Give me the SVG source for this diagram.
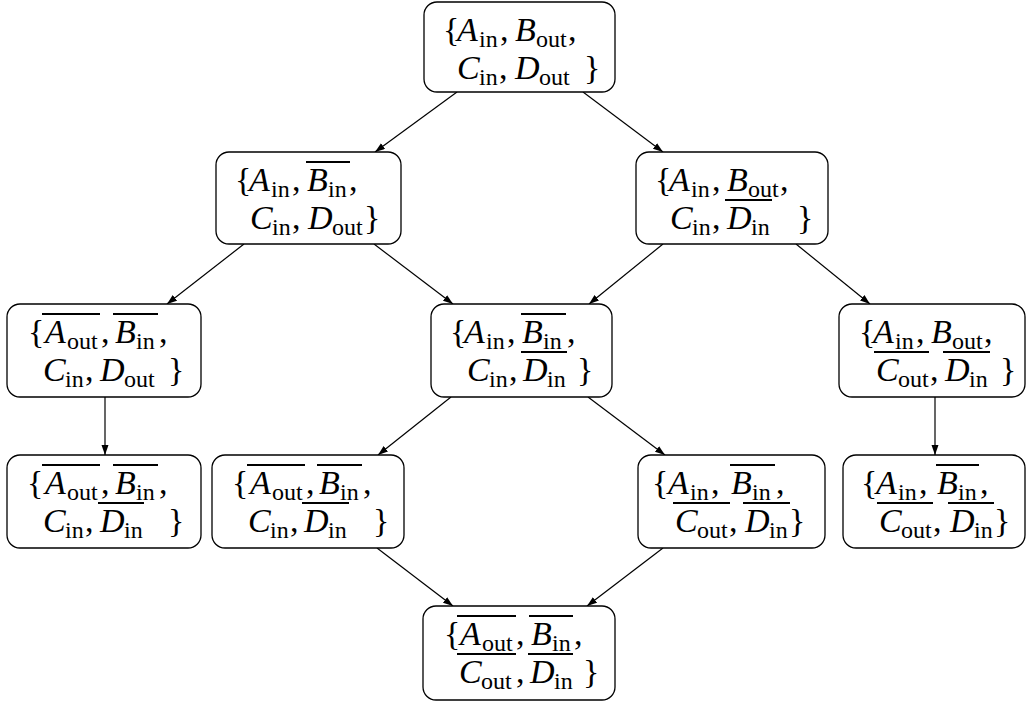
<svg xmlns="http://www.w3.org/2000/svg" width="1026" height="702" viewBox="0 0 1026 702">
<style>
.box{fill:#fff;stroke:#000;stroke-width:1.3}
.t{font-family:"Liberation Serif","Times New Roman",serif;font-size:34px;fill:#000}
.i{font-style:italic}
.s{font-size:24px;font-style:normal}
.ov{stroke:#000;stroke-width:1.8}
.e{stroke:#000;stroke-width:1.2;fill:none;marker-end:url(#ah)}
</style>
<defs>
<marker id="ah" markerUnits="userSpaceOnUse" markerWidth="10" markerHeight="8" refX="10" refY="3.5" orient="auto">
<path d="M0,0 L10,3.5 L0,7 z" fill="#000"/>
</marker>
</defs>
<rect width="1026" height="702" fill="#fff"/>
<g id="edges">
<line class="e" x1="457" y1="92" x2="375" y2="152"/>
<line class="e" x1="583" y1="92" x2="663" y2="152"/>
<line class="e" x1="244" y1="244" x2="167" y2="304"/>
<line class="e" x1="374" y1="244" x2="453" y2="304"/>
<line class="e" x1="663" y1="244" x2="589" y2="304"/>
<line class="e" x1="796" y1="244" x2="870" y2="304"/>
<line class="e" x1="105" y1="397" x2="105" y2="455"/>
<line class="e" x1="451" y1="397" x2="378" y2="455"/>
<line class="e" x1="588" y1="397" x2="665" y2="455"/>
<line class="e" x1="935" y1="397" x2="935" y2="455"/>
<line class="e" x1="377" y1="548" x2="453" y2="606"/>
<line class="e" x1="663" y1="548" x2="587" y2="606"/>
</g>
<g id="n1">
<rect class="box" x="424" y="2" width="191" height="90" rx="13"/>
<text class="t" y="41"><tspan x="443">{</tspan><tspan class="i" x="457">A</tspan><tspan class="s" x="479" y="47">in</tspan><tspan x="500" y="41">,</tspan><tspan class="i" x="515">B</tspan><tspan class="s" x="536" y="47">out</tspan><tspan x="568" y="41">,</tspan></text>
<text class="t" y="79"><tspan class="i" x="457">C</tspan><tspan class="s" x="479" y="85">in</tspan><tspan x="499" y="79">,</tspan><tspan class="i" x="515">D</tspan><tspan class="s" x="539" y="85">out</tspan><tspan x="584" y="79">}</tspan></text>
</g>
<g id="n2">
<rect class="box" x="216" y="152" width="185" height="92" rx="13"/>
<text class="t" y="191"><tspan x="235">{</tspan><tspan class="i" x="249">A</tspan><tspan class="s" x="271" y="197">in</tspan><tspan x="292" y="191">,</tspan><tspan class="i" x="307">B</tspan><tspan class="s" x="328" y="197">in</tspan><tspan x="349" y="191">,</tspan></text>
<line class="ov" x1="306" y1="162" x2="350" y2="162"/>
<text class="t" y="229"><tspan class="i" x="250">C</tspan><tspan class="s" x="272" y="235">in</tspan><tspan x="292" y="229">,</tspan><tspan class="i" x="308">D</tspan><tspan class="s" x="332" y="235">out</tspan><tspan x="364" y="229">}</tspan></text>
</g>
<g id="n3">
<rect class="box" x="636" y="152" width="192" height="92" rx="13"/>
<text class="t" y="191"><tspan x="655">{</tspan><tspan class="i" x="669">A</tspan><tspan class="s" x="691" y="197">in</tspan><tspan x="712" y="191">,</tspan><tspan class="i" x="727">B</tspan><tspan class="s" x="748" y="197">out</tspan><tspan x="780" y="191">,</tspan></text>
<text class="t" y="229"><tspan class="i" x="670">C</tspan><tspan class="s" x="692" y="235">in</tspan><tspan x="712" y="229">,</tspan><tspan class="i" x="727">D</tspan><tspan class="s" x="751" y="235">in</tspan><tspan x="797" y="229">}</tspan></text>
<line class="ov" x1="725" y1="200" x2="772" y2="200"/>
</g>
<g id="n4">
<rect class="box" x="7" y="304" width="194" height="93" rx="13"/>
<text class="t" y="343"><tspan x="28">{</tspan><tspan class="i" x="45">A</tspan><tspan class="s" x="67" y="349">out</tspan><tspan x="101" y="343">,</tspan><tspan class="i" x="115">B</tspan><tspan class="s" x="136" y="349">in</tspan><tspan x="159" y="343">,</tspan></text>
<line class="ov" x1="42" y1="314" x2="100" y2="314"/>
<line class="ov" x1="113" y1="314" x2="158" y2="314"/>
<text class="t" y="381"><tspan class="i" x="43">C</tspan><tspan class="s" x="65" y="387">in</tspan><tspan x="85" y="381">,</tspan><tspan class="i" x="100">D</tspan><tspan class="s" x="124" y="387">out</tspan><tspan x="168" y="381">}</tspan></text>
</g>
<g id="n5">
<rect class="box" x="431" y="304" width="181" height="93" rx="13"/>
<text class="t" y="343"><tspan x="450">{</tspan><tspan class="i" x="464">A</tspan><tspan class="s" x="486" y="349">in</tspan><tspan x="507" y="343">,</tspan><tspan class="i" x="522">B</tspan><tspan class="s" x="543" y="349">in</tspan><tspan x="567" y="343">,</tspan></text>
<line class="ov" x1="521" y1="314" x2="566" y2="314"/>
<text class="t" y="381"><tspan class="i" x="467">C</tspan><tspan class="s" x="489" y="387">in</tspan><tspan x="509" y="381">,</tspan><tspan class="i" x="523">D</tspan><tspan class="s" x="547" y="387">in</tspan><tspan x="577" y="381">}</tspan></text>
<line class="ov" x1="521" y1="352" x2="567" y2="352"/>
</g>
<g id="n6">
<rect class="box" x="839" y="304" width="186" height="93" rx="13"/>
<text class="t" y="343"><tspan x="859">{</tspan><tspan class="i" x="873">A</tspan><tspan class="s" x="895" y="349">in</tspan><tspan x="916" y="343">,</tspan><tspan class="i" x="931">B</tspan><tspan class="s" x="952" y="349">out</tspan><tspan x="984" y="343">,</tspan></text>
<text class="t" y="381"><tspan class="i" x="876">C</tspan><tspan class="s" x="898" y="387">out</tspan><tspan x="930" y="381">,</tspan><tspan class="i" x="945">D</tspan><tspan class="s" x="969" y="387">in</tspan><tspan x="1000" y="381">}</tspan></text>
<line class="ov" x1="874" y1="352" x2="929" y2="352"/>
<line class="ov" x1="943" y1="352" x2="990" y2="352"/>
</g>
<g id="n7">
<rect class="box" x="7" y="455" width="194" height="93" rx="13"/>
<text class="t" y="494"><tspan x="27">{</tspan><tspan class="i" x="45">A</tspan><tspan class="s" x="67" y="500">out</tspan><tspan x="101" y="494">,</tspan><tspan class="i" x="115">B</tspan><tspan class="s" x="136" y="500">in</tspan><tspan x="159" y="494">,</tspan></text>
<line class="ov" x1="42" y1="465" x2="100" y2="465"/>
<line class="ov" x1="113" y1="465" x2="158" y2="465"/>
<text class="t" y="532"><tspan class="i" x="43">C</tspan><tspan class="s" x="65" y="538">in</tspan><tspan x="85" y="532">,</tspan><tspan class="i" x="100">D</tspan><tspan class="s" x="124" y="538">in</tspan><tspan x="168" y="532">}</tspan></text>
<line class="ov" x1="98" y1="503" x2="144" y2="503"/>
</g>
<g id="n8">
<rect class="box" x="212" y="455" width="192" height="93" rx="13"/>
<text class="t" y="494"><tspan x="232">{</tspan><tspan class="i" x="250">A</tspan><tspan class="s" x="272" y="500">out</tspan><tspan x="306" y="494">,</tspan><tspan class="i" x="319">B</tspan><tspan class="s" x="340" y="500">in</tspan><tspan x="363" y="494">,</tspan></text>
<line class="ov" x1="247" y1="465" x2="305" y2="465"/>
<line class="ov" x1="317" y1="465" x2="362" y2="465"/>
<text class="t" y="532"><tspan class="i" x="248">C</tspan><tspan class="s" x="270" y="538">in</tspan><tspan x="290" y="532">,</tspan><tspan class="i" x="304">D</tspan><tspan class="s" x="328" y="538">in</tspan><tspan x="373" y="532">}</tspan></text>
<line class="ov" x1="302" y1="503" x2="349" y2="503"/>
</g>
<g id="n9">
<rect class="box" x="638" y="455" width="187" height="93" rx="13"/>
<text class="t" y="494"><tspan x="652">{</tspan><tspan class="i" x="668">A</tspan><tspan class="s" x="690" y="500">in</tspan><tspan x="711" y="494">,</tspan><tspan class="i" x="731">B</tspan><tspan class="s" x="752" y="500">in</tspan><tspan x="776" y="494">,</tspan></text>
<line class="ov" x1="730" y1="465" x2="775" y2="465"/>
<text class="t" y="532"><tspan class="i" x="675">C</tspan><tspan class="s" x="697" y="538">out</tspan><tspan x="729" y="532">,</tspan><tspan class="i" x="745">D</tspan><tspan class="s" x="769" y="538">in</tspan><tspan x="789" y="532">}</tspan></text>
<line class="ov" x1="673" y1="503" x2="730" y2="503"/>
<line class="ov" x1="743" y1="503" x2="790" y2="503"/>
</g>
<g id="n10">
<rect class="box" x="843" y="455" width="182" height="93" rx="13"/>
<text class="t" y="494"><tspan x="861">{</tspan><tspan class="i" x="876">A</tspan><tspan class="s" x="898" y="500">in</tspan><tspan x="919" y="494">,</tspan><tspan class="i" x="937">B</tspan><tspan class="s" x="958" y="500">in</tspan><tspan x="980" y="494">,</tspan></text>
<line class="ov" x1="936" y1="465" x2="979" y2="465"/>
<text class="t" y="532"><tspan class="i" x="879">C</tspan><tspan class="s" x="901" y="538">out</tspan><tspan x="933" y="532">,</tspan><tspan class="i" x="950">D</tspan><tspan class="s" x="974" y="538">in</tspan><tspan x="994" y="532">}</tspan></text>
<line class="ov" x1="877" y1="503" x2="933" y2="503"/>
<line class="ov" x1="948" y1="503" x2="994" y2="503"/>
</g>
<g id="n11">
<rect class="box" x="423" y="606" width="192" height="94" rx="13"/>
<text class="t" y="645"><tspan x="444">{</tspan><tspan class="i" x="460">A</tspan><tspan class="s" x="482" y="651">out</tspan><tspan x="516" y="645">,</tspan><tspan class="i" x="531">B</tspan><tspan class="s" x="552" y="651">in</tspan><tspan x="574" y="645">,</tspan></text>
<line class="ov" x1="457" y1="616" x2="516" y2="616"/>
<line class="ov" x1="529" y1="616" x2="573" y2="616"/>
<text class="t" y="683"><tspan class="i" x="459">C</tspan><tspan class="s" x="481" y="689">out</tspan><tspan x="516" y="683">,</tspan><tspan class="i" x="530">D</tspan><tspan class="s" x="554" y="689">in</tspan><tspan x="583" y="683">}</tspan></text>
<line class="ov" x1="457" y1="654" x2="516" y2="654"/>
<line class="ov" x1="528" y1="654" x2="573" y2="654"/>
</g>
</svg>
